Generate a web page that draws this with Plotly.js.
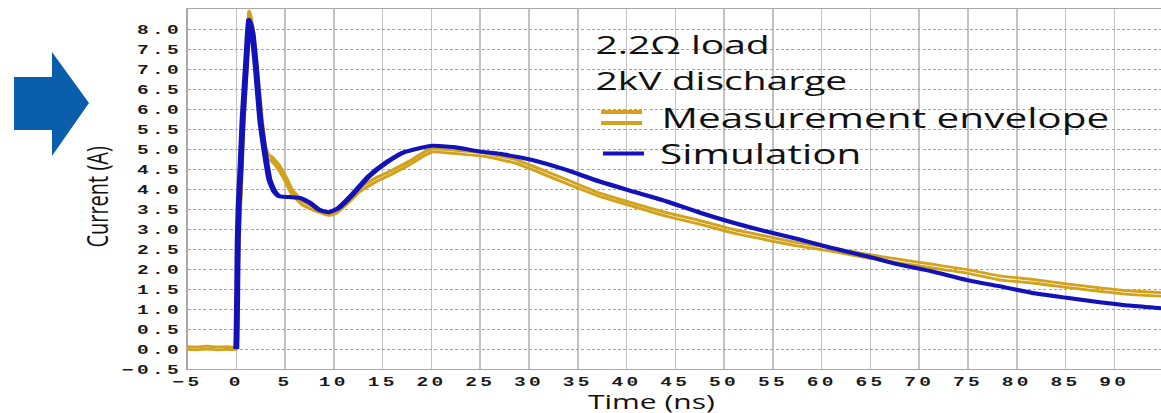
<!DOCTYPE html>
<html>
<head>
<meta charset="utf-8">
<script src="https://cdn.plot.ly/plotly-3.0.1.min.js"></script>
<style>
html,body{margin:0;padding:0;background:#fff;overflow:hidden;width:1161px;height:413px;}
#chart{width:774px;height:413px;transform:scaleX(1.5);transform-origin:0 0;}
#chart .xtick text, #chart .ytick text{letter-spacing:2.2px;}
</style>
</head>
<body>
<div id="chart"></div>
<script>
// ---- data (time in ns, current in A) ----
const simTime = [0, 0.05, 0.1, 0.15, 0.25, 0.45, 0.65, 0.99, 1.33, 1.65, 2.0, 2.46, 2.75, 3.04, 3.4, 3.9, 4.4, 5.4, 6.5, 7.5, 8.5, 9.5, 10.5, 11.9, 13.6, 15.3, 17.0, 18.8, 20.1, 22.2, 24.9, 27.0, 30.3, 33.8, 37.2, 40.6, 44.1, 47.5, 50.9, 54.3, 57.7, 61.1, 64.6, 68.0, 71.3, 74.8, 78.2, 81.6, 85.1, 88.5, 91.8, 94.8];
const simCurrent = [0, 0.6, 1.6, 2.7, 3.6, 4.6, 5.73, 7.07, 8.23, 7.9, 7.07, 5.73, 5.2, 4.73, 4.23, 3.94, 3.82, 3.8, 3.78, 3.66, 3.48, 3.42, 3.53, 3.86, 4.32, 4.65, 4.9, 5.02, 5.08, 5.05, 4.94, 4.88, 4.73, 4.48, 4.19, 3.94, 3.69, 3.41, 3.16, 2.94, 2.74, 2.52, 2.32, 2.11, 1.94, 1.73, 1.57, 1.40, 1.28, 1.17, 1.08, 1.02];

const measTime = [-5, -4, -3, -2, -1, -0.05, 0.05, 0.15, 0.25, 0.45, 0.65, 0.99, 1.35, 1.7, 2.15, 2.6, 3.0, 3.3, 3.55, 4.2, 5.1, 5.7, 6.8, 8.2, 9.2, 9.6, 10.2, 11.3, 12.6, 14.3, 16.0, 17.7, 19.4, 20.1, 22.2, 25.6, 28.7, 30.3, 33.8, 37.2, 40.6, 44.1, 47.5, 50.9, 54.3, 57.7, 61.1, 64.6, 68.0, 71.3, 74.8, 78.2, 81.6, 85.1, 88.5, 91.8, 94.8];
const measUpper = [0.06, 0.05, 0.07, 0.05, 0.06, 0.05, 0.9, 2.0, 3.0, 4.1, 5.5, 7.0, 8.45, 7.95, 6.9, 5.75, 5.0, 4.85, 4.82, 4.65, 4.28, 3.98, 3.7, 3.52, 3.44, 3.42, 3.47, 3.72, 4.03, 4.28, 4.47, 4.69, 4.94, 5.0, 4.97, 4.89, 4.73, 4.58, 4.24, 3.9, 3.65, 3.41, 3.21, 2.99, 2.82, 2.65, 2.53, 2.37, 2.24, 2.12, 1.99, 1.83, 1.74, 1.63, 1.53, 1.45, 1.41];
const measLower = [-0.01, -0.02, 0.0, -0.02, -0.01, -0.01, 0.7, 1.8, 2.8, 3.9, 5.3, 6.8, 8.3, 7.8, 6.75, 5.6, 4.85, 4.72, 4.72, 4.55, 4.18, 3.88, 3.6, 3.44, 3.36, 3.34, 3.39, 3.62, 3.93, 4.18, 4.38, 4.6, 4.85, 4.93, 4.89, 4.81, 4.64, 4.49, 4.14, 3.82, 3.57, 3.32, 3.12, 2.9, 2.73, 2.57, 2.44, 2.28, 2.15, 2.03, 1.9, 1.73, 1.65, 1.54, 1.44, 1.36, 1.32];

const xTickVals = [-5, 0, 5, 10, 15, 20, 25, 30, 35, 40, 45, 50, 55, 60, 65, 70, 75, 80, 85, 90];
const xTickText = ["\u22125", "0", "5", "10", "15", "20", "25", "30", "35", "40", "45", "50", "55", "60", "65", "70", "75", "80", "85", "90"];
const yTickVals = [-0.5, 0, 0.5, 1, 1.5, 2, 2.5, 3, 3.5, 4, 4.5, 5, 5.5, 6, 6.5, 7, 7.5, 8];
const yTickText = ["\u22120.5", "0.0", "0.5", "1.0", "1.5", "2.0", "2.5", "3.0", "3.5", "4.0", "4.5", "5.0", "5.5", "6.0", "6.5", "7.0", "7.5", "8.0"];

const seriesNames = ["Measurement envelope", "Simulation"];
const noteLines = ["2.2\u03A9 load", "2kV discharge"];
const xTitle = "Time (ns)";
const yTitle = "Current (A)";

const GOLD = "#D2A21C";
const BLUE = "#1212B8";
const TXT = "Open Sans, Noto Sans, sans-serif";

const traces = [
  {x: measTime, y: measUpper, type: "scatter", mode: "lines", name: seriesNames[0],
   line: {color: GOLD, width: 2.8, shape: "spline", smoothing: 0.4}, showlegend: false, hoverinfo: "skip"},
  {x: measTime, y: measLower, type: "scatter", mode: "lines", name: seriesNames[0] + " (lower)",
   line: {color: GOLD, width: 2.8, shape: "spline", smoothing: 0.4}, showlegend: false, hoverinfo: "skip"},
  {x: simTime, y: simCurrent, type: "scatter", mode: "lines", name: seriesNames[1],
   line: {color: BLUE, width: 4, shape: "spline", smoothing: 0.5}, showlegend: false, hoverinfo: "skip"}
];

const tickFont = {family: "Liberation Mono, DejaVu Sans Mono, monospace", size: 13, color: "#1a1a1a", weight: "bold"};

const layout = {
  width: 774, height: 413,
  margin: {l: 125, r: 0, t: 9, b: 44, pad: 0},
  paper_bgcolor: "#ffffff", plot_bgcolor: "#ffffff",
  showlegend: false,
  xaxis: {
    range: [-5, 94.78], tickmode: "array", tickvals: xTickVals, ticktext: xTickText,
    showgrid: true, gridcolor: "#c2c2c2", gridwidth: 1, zeroline: false,
    showline: true, linecolor: "#a8a8a8", linewidth: 1, mirror: true,
    ticks: "", ticklen: 0, tickfont: tickFont, automargin: false, fixedrange: true
  },
  yaxis: {
    range: [-0.5, 8.5], tickmode: "array", tickvals: yTickVals, ticktext: yTickText,
    showgrid: true, gridcolor: "#a4a4a4", gridwidth: 1, griddash: "2px,1.5px", zeroline: false,
    showline: true, linecolor: "#a8a8a8", linewidth: 1, mirror: true,
    ticks: "", ticklen: 0, tickfont: tickFont, automargin: false, fixedrange: true
  },
  annotations: [
    {text: yTitle, xref: "paper", yref: "paper", x: -0.0929, y: 0.478, xanchor: "center", yanchor: "middle",
     textangle: -90, showarrow: false, font: {family: TXT, size: 20, color: "#111"}},
    {text: xTitle, xref: "paper", yref: "paper", x: 0.4771, y: -0.0905, xanchor: "center", yanchor: "middle",
     showarrow: false, borderpad: 0, font: {family: TXT, size: 20, color: "#111"}},
    {text: noteLines[0], xref: "paper", yref: "paper", x: 0.4165, y: 0.9028, xanchor: "left", yanchor: "middle",
     showarrow: false, font: {family: TXT, size: 26, color: "#111"}},
    {text: noteLines[1], xref: "paper", yref: "paper", x: 0.4165, y: 0.8028, xanchor: "left", yanchor: "middle",
     showarrow: false, font: {family: TXT, size: 26, color: "#111"}},
    {text: seriesNames[0], xref: "paper", yref: "paper", x: 0.4843, y: 0.700, xanchor: "left", yanchor: "middle",
     showarrow: false, font: {family: TXT, size: 27, color: "#111"}},
    {text: seriesNames[1], xref: "paper", yref: "paper", x: 0.4823, y: 0.600, xanchor: "left", yanchor: "middle",
     showarrow: false, font: {family: TXT, size: 27, color: "#111"}}
  ],
  shapes: [
    // legend keys
    {type: "line", xref: "paper", yref: "paper", x0: 0.4248, x1: 0.4669, y0: 0.7139, y1: 0.7139, line: {color: GOLD, width: 4}},
    {type: "line", xref: "paper", yref: "paper", x0: 0.4248, x1: 0.4669, y0: 0.6833, y1: 0.6833, line: {color: GOLD, width: 4}},
    {type: "line", xref: "paper", yref: "paper", x0: 0.4268, x1: 0.4689, y0: 0.5986, y1: 0.5986, line: {color: BLUE, width: 4}},
    // blue block arrow at the left
    {type: "path", xref: "paper", yref: "paper", layer: "above",
     path: "M -0.1782 0.8111 L -0.1392 0.8111 L -0.1392 0.8806 L -0.1012 0.7389 L -0.1392 0.5917 L -0.1392 0.6639 L -0.1782 0.6639 Z",
     fillcolor: "#0A5EAB", line: {width: 0}}
  ]
};

Plotly.newPlot("chart", traces, layout, {displayModeBar: false, staticPlot: true});
</script>
</body>
</html>
